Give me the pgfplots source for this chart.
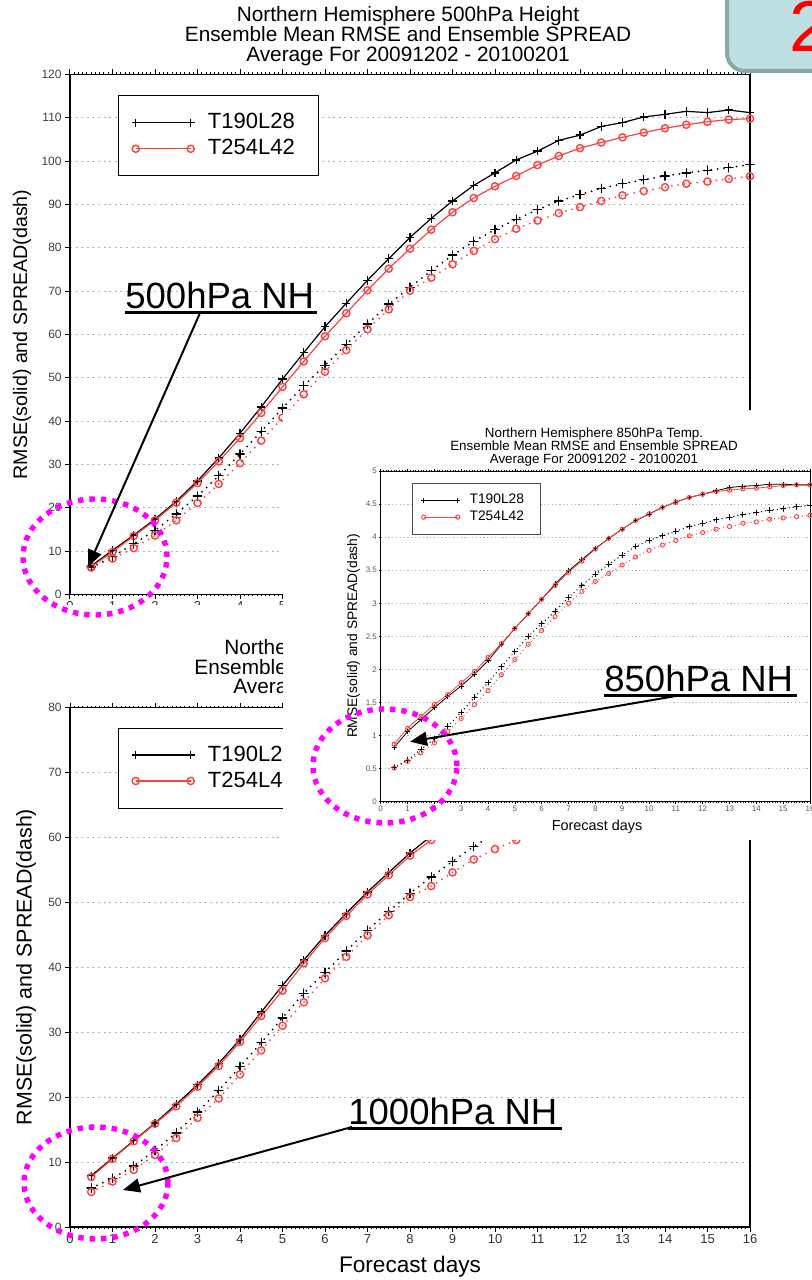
\documentclass[border=0pt]{standalone}
\usepackage{fontspec}
\setmainfont{Liberation Sans}
\usepackage{pgfplots}
\pgfplotsset{compat=1.18}
\usetikzlibrary{arrows.meta}
\definecolor{gred}{RGB}{255,64,64}
\definecolor{gmag}{RGB}{255,0,255}
\definecolor{tfill}{RGB}{190,224,227}
\definecolor{tborder}{RGB}{138,168,170}
\definecolor{ggrid}{RGB}{180,180,180}
\newcommand{\fs}[1]{\fontsize{#1}{#1}\selectfont}
\tikzset{px/.style={shift={(0pt,640pt)}, x=0.5pt, y=-0.5pt}}
\pgfplotsset{
  big/.style={
    scale only axis, width=340pt, anchor=south west,
    xmin=0, xmax=16, xtick={0,1,...,16}, minor x tick num=9,
    tick align=outside, xtick pos=both, ytick pos=left,
    major tick length=2.5pt, minor tick length=1pt,
    tick style={black, line width=0.5pt},
    axis line style={black, line width=0.9pt},
    ymajorgrids, major grid style={ggrid, line width=0.45pt, dash pattern=on 1pt off 1.8pt},
    /pgf/number format/assume math mode=true,
    yticklabel style={font=\fs{6}, text=black!75, inner sep=1.5pt},
    xticklabel style={font=\fs{6.5}, text=black!80, inner sep=1pt},
    legend cell align=left,
    legend style={anchor=north west, draw=black, line width=0.5pt, fill=white,
      inner xsep=6.5pt, inner ysep=7pt, font=\fs{11},
      nodes={inner sep=0pt, minimum height=13pt},
      /tikz/every odd column/.style={column sep=6.5pt}},
    legend image code/.code={\draw[mark repeat=1,mark phase=1,##1] plot coordinates {(0pt,0pt) (27.5pt,0pt)};},
  },
  small/.style={
    scale only axis, width=214.65pt, height=165.35pt, anchor=south west,
    xmin=0, xmax=16, xtick={0,1,...,16}, minor x tick num=9,
    ymin=0, ymax=5, ytick={0,0.5,...,5},
    tick align=outside, xtick pos=both, ytick pos=left,
    major tick length=1pt, minor tick length=0.6pt,
    tick style={black, line width=0.35pt},
    axis line style={black, line width=0.5pt},
    ymajorgrids, major grid style={ggrid, line width=0.35pt, dash pattern=on 0.6pt off 1.3pt},
    /pgf/number format/assume math mode=true,
    yticklabel style={font=\fs{4}, text=black!65, inner sep=0.7pt},
    xticklabel style={font=\fs{4}, text=black!65, inner sep=1.1pt},
    legend cell align=left,
    legend style={anchor=north west, draw=black!70, line width=0.4pt, fill=white,
      inner xsep=4.5pt, inner ysep=4.45pt, font=\fs{6.9},
      nodes={inner sep=0pt, minimum height=8.3pt},
      /tikz/every odd column/.style={column sep=4.65pt}},
    legend image code/.code={\draw[mark repeat=1,mark phase=1,##1] plot coordinates {(0pt,0pt) (17pt,0pt)};},
  },
  bs/.style={black, line width=0.6pt, mark=+, mark size=2.1pt, mark options={solid, line width=0.7pt}},
  rs/.style={gred, line width=0.6pt, mark=o, mark size=1.8pt, mark options={solid, line width=0.7pt}},
  bd/.style={black, line width=1pt, line cap=round, dash pattern=on 0pt off 3.2pt, mark=+, mark size=2.1pt, mark options={solid, line width=0.7pt}},
  rd/.style={gred, line width=1pt, line cap=round, dash pattern=on 0pt off 3.2pt, mark=o, mark size=1.8pt, mark options={solid, line width=0.7pt}},
  bsi/.style={black, line width=0.4pt, mark=+, mark size=1.3pt, mark options={solid, line width=0.45pt}},
  rsi/.style={gred, line width=0.4pt, mark=o, mark size=1.05pt, mark options={solid, line width=0.45pt}},
  bdi/.style={black, line width=0.7pt, line cap=round, dash pattern=on 0pt off 2pt, mark=+, mark size=1.3pt, mark options={solid, line width=0.45pt}},
  rdi/.style={gred, line width=0.7pt, line cap=round, dash pattern=on 0pt off 2pt, mark=o, mark size=1.05pt, mark options={solid, line width=0.45pt}},
}
\begin{document}
\begin{tikzpicture}
\useasboundingbox (0,0) rectangle (406pt,640pt);
\clip (0,0) rectangle (406pt,640pt);
% ---------------- 500 hPa ----------------
\begin{axis}[big, height=260pt, at={(35pt,342.75pt)}, ymin=0, ymax=120, ytick={0,10,...,120},
  legend style={at={(0.0706,0.960)}}]
\addplot[bs] coordinates {(0.5,6.6)(1,10.2)(1.5,13.7)(2,17.4)(2.5,21.5)(3,26.2)(3.5,31.5)(4,37.2)(4.5,43.3)(5,49.7)(5.5,55.8)(6,61.8)(6.5,67.2)(7,72.5)(7.5,77.5)(8,82.4)(8.5,86.8)(9,90.8)(9.5,94.4)(10,97.3)(10.5,100.3)(11,102.3)(11.5,104.8)(12,106.0)(12.5,108.0)(13,108.9)(13.5,110.2)(14,110.8)(14.5,111.5)(15,111.2)(15.5,111.8)(16,111.2)};
\addlegendentry{\makebox[49pt][l]{T190L28}}
\addplot[rs] coordinates {(0.5,6.4)(1,9.8)(1.5,13.5)(2,17.1)(2.5,21.2)(3,25.7)(3.5,30.7)(4,36.1)(4.5,41.9)(5,47.9)(5.5,53.8)(6,59.6)(6.5,64.9)(7,70.2)(7.5,75.2)(8,79.8)(8.5,84.2)(9,88.2)(9.5,91.5)(10,94.2)(10.5,96.6)(11,99.1)(11.5,101.2)(12,103.0)(12.5,104.3)(13,105.5)(13.5,106.6)(14,107.6)(14.5,108.4)(15,109.1)(15.5,109.6)(16,109.8)};
\addlegendentry{\makebox[49pt][l]{T254L42}}
\addplot[bd, forget plot] coordinates {(0.5,6.3)(1,8.7)(1.5,11.7)(2,14.8)(2.5,18.6)(3,22.7)(3.5,27.4)(4,32.4)(4.5,37.6)(5,43.0)(5.5,48.2)(6,52.9)(6.5,57.7)(7,62.4)(7.5,67.0)(8,70.9)(8.5,74.7)(9,78.3)(9.5,81.5)(10,84.2)(10.5,86.6)(11,88.8)(11.5,90.8)(12,92.3)(12.5,93.7)(13,94.8)(13.5,95.7)(14,96.6)(14.5,97.3)(15,97.9)(15.5,98.5)(16,99.2)};
\addplot[rd, forget plot] coordinates {(0.5,6.2)(1,8.3)(1.5,10.7)(2,13.6)(2.5,17.1)(3,21.1)(3.5,25.5)(4,30.3)(4.5,35.5)(5,40.8)(5.5,46.2)(6,51.4)(6.5,56.4)(7,61.2)(7.5,65.8)(8,70.1)(8.5,73.1)(9,76.2)(9.5,79.3)(10,82.0)(10.5,84.4)(11,86.3)(11.5,88.0)(12,89.4)(12.5,90.8)(13,92.1)(13.5,93.1)(14,94.0)(14.5,94.8)(15,95.3)(15.5,95.9)(16,96.5)};
\end{axis}
\begin{scope}[px]
\node[anchor=base, inner sep=0pt, font=\fs{10.4}] at (408,22) {Northern Hemisphere 500hPa Height};
\node[anchor=base, inner sep=0pt, font=\fs{10.4}] at (408,42) {Ensemble Mean RMSE and Ensemble SPREAD};
\node[anchor=base, inner sep=0pt, font=\fs{10.4}] at (408,61.5) {Average For 20091202 - 20100201};
\node[rotate=90, inner sep=0pt, font=\fs{9.8}] at (22,334.5) {RMSE(solid) and SPREAD(dash)};
\fill[white] (0,605) rectangle (812,1290);
\end{scope}
% ---------------- 1000 hPa ----------------
\begin{axis}[big, height=259.75pt, at={(35pt,26.5pt)}, ymin=0, ymax=80, ytick={0,10,...,80},
  legend style={at={(0.0706,0.9615)}}]
\addplot[bs] coordinates {(0.5,7.9)(1,10.6)(1.5,13.3)(2,16.0)(2.5,18.9)(3,21.9)(3.5,25.2)(4,28.9)(4.5,33.1)(5,37.2)(5.5,41.1)(6,44.9)(6.5,48.3)(7,51.6)(7.5,54.6)(8,57.6)(8.5,60.2)(9,62.6)};
\addlegendentry{\makebox[49pt][l]{T190L28}}
\addplot[rs] coordinates {(0.5,7.7)(1,10.5)(1.5,13.2)(2,15.9)(2.5,18.6)(3,21.6)(3.5,24.8)(4,28.5)(4.5,32.5)(5,36.4)(5.5,40.6)(6,44.5)(6.5,47.9)(7,51.2)(7.5,54.2)(8,57.2)(8.5,59.6)(9,62.0)};
\addlegendentry{\makebox[49pt][l]{T254L42}}
\addplot[bd, forget plot] coordinates {(0.5,6.0)(1,7.5)(1.5,9.4)(2,11.8)(2.5,14.5)(3,17.7)(3.5,21.0)(4,24.7)(4.5,28.4)(5,32.2)(5.5,36.0)(6,39.2)(6.5,42.5)(7,45.7)(7.5,48.6)(8,51.4)(8.5,53.9)(9,56.3)(9.5,58.6)(10,60.6)(10.5,62.4)};
\addplot[rd, forget plot] coordinates {(0.5,5.4)(1,7.0)(1.5,8.8)(2,11.1)(2.5,13.7)(3,16.8)(3.5,19.8)(4,23.5)(4.5,27.2)(5,31.0)(5.5,34.6)(6,38.3)(6.5,41.6)(7,44.9)(7.5,48.0)(8,50.8)(8.5,52.5)(9,54.6)(9.5,56.6)(10,58.2)(10.5,59.6)(11,61.0)};
\end{axis}
\begin{scope}[px]
\begin{scope}
\clip (0,600) rectangle (283,705);
\node[anchor=base west, inner sep=0pt, font=\fs{10.4}] at (224,654.5) {Northern};
\node[anchor=base west, inner sep=0pt, font=\fs{10.4}] at (194,674.5) {Ensemble M};
\node[anchor=base west, inner sep=0pt, font=\fs{10.4}] at (233,694) {Averag};
\end{scope}
\node[rotate=90, inner sep=0pt, font=\fs{10.7}] at (26,967) {RMSE(solid) and SPREAD(dash)};
\node[inner sep=0pt, font=\fs{11.3}] at (410,1267) {Forecast days};
\fill[white] (283,410) rectangle (830,840);
\end{scope}
% ---------------- 850 hPa inset ----------------
\begin{axis}[small, at={(190.35pt,239.15pt)}, legend style={at={(0.0722,0.9637)}}]
\addplot[bsi] coordinates {(0.5,0.82)(1,1.06)(1.5,1.24)(2,1.42)(2.5,1.59)(3,1.75)(3.5,1.93)(4,2.13)(4.5,2.38)(5,2.62)(5.5,2.84)(6,3.06)(6.5,3.29)(7,3.49)(7.5,3.66)(8,3.83)(8.5,3.98)(9,4.12)(9.5,4.25)(10,4.35)(10.5,4.45)(11,4.53)(11.5,4.60)(12,4.65)(12.5,4.70)(13,4.75)(13.5,4.77)(14,4.78)(14.5,4.80)(15,4.80)(15.5,4.79)(16,4.79)};
\addlegendentry{\makebox[31pt][l]{T190L28}}
\addplot[rsi] coordinates {(0.5,0.87)(1,1.11)(1.5,1.29)(2,1.47)(2.5,1.62)(3,1.80)(3.5,1.97)(4,2.18)(4.5,2.39)(5,2.62)(5.5,2.84)(6,3.06)(6.5,3.27)(7,3.47)(7.5,3.64)(8,3.82)(8.5,3.98)(9,4.12)(9.5,4.25)(10,4.35)(10.5,4.45)(11,4.53)(11.5,4.60)(12,4.65)(12.5,4.69)(13,4.71)(13.5,4.73)(14,4.74)(14.5,4.76)(15,4.78)(15.5,4.79)(16,4.79)};
\addlegendentry{\makebox[31pt][l]{T254L42}}
\addplot[bdi, forget plot] coordinates {(0.5,0.52)(1,0.63)(1.5,0.79)(2,0.95)(2.5,1.14)(3,1.35)(3.5,1.58)(4,1.80)(4.5,2.04)(5,2.27)(5.5,2.50)(6,2.69)(6.5,2.88)(7,3.09)(7.5,3.27)(8,3.44)(8.5,3.59)(9,3.73)(9.5,3.86)(10,3.95)(10.5,4.02)(11,4.09)(11.5,4.16)(12,4.21)(12.5,4.26)(13,4.30)(13.5,4.34)(14,4.37)(14.5,4.41)(15,4.43)(15.5,4.46)(16,4.48)};
\addplot[rdi, forget plot] coordinates {(0.5,0.51)(1,0.61)(1.5,0.74)(2,0.89)(2.5,1.06)(3,1.26)(3.5,1.47)(4,1.68)(4.5,1.92)(5,2.15)(5.5,2.38)(6,2.59)(6.5,2.80)(7,3.00)(7.5,3.18)(8,3.33)(8.5,3.45)(9,3.58)(9.5,3.70)(10,3.80)(10.5,3.88)(11,3.95)(11.5,4.02)(12,4.07)(12.5,4.12)(13,4.16)(13.5,4.21)(14,4.23)(14.5,4.27)(15,4.29)(15.5,4.31)(16,4.33)};
\end{axis}
\begin{scope}[px]
\node[anchor=base, inner sep=0pt, font=\fs{6.7}] at (594,437.6) {Northern Hemisphere 850hPa Temp.};
\node[anchor=base, inner sep=0pt, font=\fs{6.7}] at (594,450.6) {Ensemble Mean RMSE and Ensemble SPREAD};
\node[anchor=base, inner sep=0pt, font=\fs{6.7}] at (594,463.9) {Average For 20091202 - 20100201};
\node[rotate=90, inner sep=0pt, font=\fs{6.9}] at (353.5,636) {RMSE(solid) and SPREAD(dash)};
\node[inner sep=0pt, font=\fs{7.2}] at (597,826.7) {Forecast days};
% ---------------- annotations ----------------
\draw[gmag, line width=2.7pt, dash pattern=on 2.7pt off 3pt] (95,557) ellipse [x radius=36pt, y radius=29pt];
\draw[gmag, line width=2.7pt, dash pattern=on 2.7pt off 3pt] (385,766) ellipse [x radius=36pt, y radius=28.5pt];
\draw[gmag, line width=2.7pt, dash pattern=on 2.7pt off 3pt] (96,1183) ellipse [x radius=36pt, y radius=28pt];
\draw[line width=1pt, -{Triangle[length=8.5pt,width=7pt]}] (200,313) -- (88,567);
\draw[line width=1pt, -{Triangle[length=8.5pt,width=7pt]}] (681.7,695) -- (410,741.7);
\draw[line width=1pt, -{Triangle[length=8.5pt,width=7pt]}] (352,1127) -- (123,1190);
\node[anchor=base west, inner sep=0pt, font=\fs{18.25}] at (125,308.3) {500hPa NH};
\draw[line width=1.5pt] (125,313) -- (317,313);
\node[anchor=base west, inner sep=0pt, font=\fs{18.25}] at (604,691.7) {850hPa NH};
\draw[line width=1.5pt] (604,696) -- (797,696);
\node[anchor=base west, inner sep=0pt, font=\fs{18.25}] at (348,1125) {1000hPa NH};
\draw[line width=1.5pt] (348,1129) -- (562,1129);
\draw[line width=2pt, draw=tborder, fill=tfill, rounded corners=9pt] (727,-40) rectangle (870,71);
\node[anchor=base west, inner sep=0pt, text=red, font=\fs{36}] at (789,52) {2};
\end{scope}
\end{tikzpicture}
\end{document}
